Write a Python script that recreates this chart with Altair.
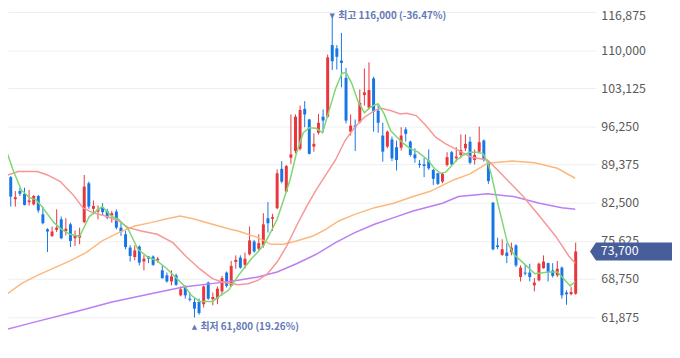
import altair as alt
import numpy as np
import pandas as pd

# ---------------- data ----------------
opens = [89600, 87100, 83100, 84600, 84100, 82600, 82200, 83700, 80400, 77700,
         76500, 77600, 79500, 77400, 78600, 76100, 76200, 79000, 86000, 81400,
         80900, 81700, 81000, 80200, 80900, 78000, 76800, 74400, 72700, 74600,
         71900, 72800, 72800, 72100, 70300, 69400, 68300, 69400, 65800, 67300,
         65200, 64600, 64600, 64200, 68100, 65100, 65200, 66500, 69900, 67500,
         71800, 72600, 71300, 73200, 75500, 74200, 74800, 79700, 79600, 81500,
         88600, 84500, 90600, 91800, 92200, 99400, 97500, 92600, 95100, 98000,
         98000, 110900, 110300, 108100, 105000, 95300, 96400, 97000, 101900, 99600,
         104900, 99100, 94600, 92600, 93900, 92500, 92400, 95700, 93500, 91200,
         89500, 89400, 90100, 88400, 87800, 86300, 89300, 91600, 90500, 91100,
         92300, 93500, 90200, 91700, 93700, 89800, 82500, 74800, 73100, 73500,
         73600, 74800, 69100, 69900, 69900, 67600, 68500, 70700, 71600, 70300,
         69400, 70800, 66300, 66000, 66100]
highs = [90000, 87300, 84600, 85200, 85200, 84800, 83900, 83900, 81800, 77900,
         78200, 81300, 80000, 79700, 78900, 77500, 78000, 87500, 86300, 82900,
         82000, 82400, 81400, 81000, 81300, 78900, 77400, 74800, 74800, 74800,
         73000, 72900, 73000, 72700, 71200, 69900, 70300, 69700, 67400, 67600,
         66400, 65500, 65200, 67600, 68300, 66300, 67400, 69300, 70100, 72000,
         73000, 73000, 73500, 78200, 75800, 76800, 80600, 82600, 80500, 88500,
         90000, 89300, 98400, 98400, 100000, 100800, 97600, 95000, 98500, 99300,
         109200, 116000, 110900, 113100, 106800, 98400, 97500, 102900, 106700, 107800,
         105200, 100100, 96900, 95500, 94400, 93700, 96100, 96100, 93700, 92300,
         90200, 90600, 92100, 88600, 87900, 87900, 91600, 91800, 92500, 94800,
         94800, 94400, 92100, 96200, 93900, 90100, 82600, 76200, 75900, 75200,
         75300, 75000, 71200, 71300, 71500, 68900, 71700, 73000, 71700, 71600,
         72000, 71000, 66700, 67300, 75300]
lows = [86600, 81800, 81800, 83700, 82000, 82000, 82000, 80700, 78600, 73600,
        76300, 77200, 75900, 76600, 74500, 74700, 75000, 78800, 81400, 80400,
        79500, 80100, 79500, 78900, 77700, 76500, 74100, 71900, 72100, 71200,
        70300, 71600, 71100, 71700, 68800, 68100, 67600, 67500, 65600, 65200,
        64700, 61800, 62300, 63600, 65000, 64000, 64200, 65800, 67200, 67300,
        70600, 70600, 70600, 73000, 73500, 73900, 74400, 77100, 77400, 81300,
        86000, 84400, 89500, 91400, 91900, 96100, 91200, 91700, 94800, 95200,
        97800, 106400, 106500, 103300, 96800, 94600, 91800, 96800, 100000, 99300,
        95300, 95100, 89900, 92300, 90000, 88300, 91900, 93500, 90800, 89700,
        88800, 87100, 88400, 85700, 85700, 86000, 89000, 89200, 89900, 90500,
        91800, 89400, 89400, 91400, 89900, 85900, 73900, 74100, 72900, 71600,
        73000, 70900, 68300, 69400, 68300, 66500, 68300, 70600, 68300, 69000,
        69100, 65200, 64100, 65800, 65900]
closes = [87000, 83600, 83500, 84100, 82100, 82900, 83700, 81100, 78800, 77300,
          77300, 78000, 76100, 77800, 75600, 76600, 76700, 85400, 81800, 81900,
          81300, 80800, 79800, 80600, 78000, 77200, 74500, 72900, 73900, 71700,
          72400, 72400, 71300, 72400, 68900, 68300, 69200, 67700, 66900, 65800,
          65000, 63400, 62600, 67400, 65200, 65500, 67000, 68900, 67500, 71100,
          72200, 70800, 72400, 75700, 73700, 75200, 78600, 78800, 79900, 87800,
          86300, 89100, 91200, 98000, 99200, 98400, 91300, 93100, 96900, 97300,
          108700, 108000, 108800, 107700, 97300, 96400, 96100, 100500, 102400, 102800,
          98900, 96900, 91700, 95300, 90500, 90200, 94600, 94900, 91100, 90500,
          89300, 89100, 88700, 86800, 85900, 87700, 90700, 89400, 90800, 92000,
          93100, 89700, 91100, 93400, 90200, 86400, 74100, 74500, 74100, 72900,
          74400, 71200, 70800, 69700, 69100, 68100, 71500, 71900, 69900, 69300,
          70600, 65800, 66000, 66400, 73700]

# moving averages (candle index, value)
ma5_x = [-0.2, 1.5, 3.3, 5.1, 6.5, 7.5, 10.4, 12.1, 13.9, 16.0, 18.1, 20.9, 23.0,
         24.5, 26.6, 28.7, 30.8, 32.9, 35.0, 37.2, 38.9, 40.3, 42.1, 44.9, 46.7,
         48.4, 50.5, 52.0, 53.4, 54.8, 56.2, 57.6, 59.0, 60.4, 61.8, 63.2, 64.7,
         66.0, 67.5, 68.9, 70.3, 71.7, 73.1, 74.0, 75.2, 76.6, 78.0, 79.1, 80.2,
         81.0, 82.3, 83.7, 85.1, 86.5, 87.9, 89.7, 91.8, 93.2, 94.6, 95.7, 96.7,
         98.1, 99.6, 101.0, 102.4, 103.8, 104.8, 105.5, 107.0, 109.1, 110.5,
         113.3, 115.1, 118.2, 120.0, 121.4, 122.8, 123.9]
ma5_v = [92500, 88400, 84800, 83400, 83000, 82100, 78900, 77700, 76800, 76400,
         80000, 81800, 80000, 79500, 77700, 74100, 72700, 72000, 70600, 68800,
         67400, 65800, 64700, 64700, 65800, 66700, 69300, 70900, 72400, 73600,
         75000, 77200, 79500, 83000, 86600, 91400, 95100, 96000, 95900, 95100,
         99100, 103000, 105800, 106000, 104100, 100800, 98700, 99600, 100100,
         100300, 98500, 95500, 94300, 93200, 92300, 91600, 90200, 88700, 87800,
         88000, 88900, 90200, 91100, 91600, 91600, 91400, 89800, 88000, 82500,
         75400, 73200, 71100, 69700, 70000, 70000, 68800, 67500, 68300]
ma20_x = [-0.2, 2.6, 6.8, 9.0, 11.8, 14.6, 16.7, 18.8, 21.6, 24.5, 26.6, 29.4,
          32.9, 36.3, 39.3, 42.1, 44.9, 47.0, 50.5, 52.7, 54.8, 56.9, 59.0, 61.1,
          63.2, 65.4, 67.5, 69.6, 71.7, 73.8, 75.9, 78.0, 80.2, 81.6, 83.7, 85.8,
          87.2, 89.3, 91.4, 93.5, 95.7, 99.2, 101.3, 104.8, 107.0, 109.8, 112.6,
          116.1, 119.6, 122.5, 123.9]
ma20_v = [87300, 88100, 88100, 87500, 86300, 83900, 81600, 80700, 80100, 79200,
          78000, 77400, 76800, 75300, 72700, 70600, 68800, 68200, 67700, 67900,
          68500, 69700, 71800, 74700, 78300, 81800, 84800, 87500, 90200, 93700,
          96100, 97900, 99100, 99500, 99100, 98500, 98600, 98200, 96400, 94300,
          93100, 91600, 90700, 90200, 88400, 86000, 83600, 80100, 76500, 72900,
          71600]
ma60_x = [-0.2, 3.3, 6.8, 13.9, 17.4, 20.9, 24.5, 28.0, 31.5, 35.0, 37.9, 40.7,
          44.9, 48.4, 50.5, 54.8, 57.6, 60.4, 63.2, 66.8, 69.6, 72.4, 75.9, 80.2,
          84.4, 88.6, 92.2, 97.4, 101.0, 104.8, 110.1, 115.1, 120.0, 123.9]
ma60_v = [65800, 67900, 69400, 72000, 73500, 75600, 77100, 78300, 78900, 79600,
          80100, 79600, 78600, 77800, 77400, 76200, 75000, 75000, 75600, 76500,
          77700, 79200, 80400, 81600, 82400, 83600, 84500, 86600, 87700, 89600,
          90000, 89700, 88700, 86900]
ma120_x = [-0.2, 6.8, 15.3, 23.05, 31.5, 38.6, 45.6, 50.5, 54.8, 59.0, 63.2, 67.5,
           71.7, 75.9, 80.2, 84.4, 88.6, 95.0, 98.5, 104.8, 110.5, 116.1, 121.0,
           123.9]
ma120_v = [59600, 61100, 62900, 64600, 66100, 67300, 68000, 68500, 69100, 70000,
           71500, 73200, 75300, 77100, 78600, 79800, 81000, 82400, 83600, 84100,
           83600, 82400, 81600, 81300]

y_ticks = [61875, 68750, 75625, 82500, 89375, 96250, 103125, 110000, 116875]

# ---------------- styling ----------------
RED = "#e8363c"
BLUE = "#1676e6"
C_MA5 = "#7fd672"
C_MA20 = "#f79797"
C_MA60 = "#fbb97c"
C_MA120 = "#b97ff3"
C_NOTE = "#6479b5"
C_TAG = "#475e9b"
FONT = "Noto Sans CJK KR"

n = len(closes)
candles = pd.DataFrame({"i": list(range(n)), "open": opens, "high": highs,
                        "low": lows, "close": closes})
candles["dir"] = np.where(candles["close"] >= candles["open"], "up", "down")

x_scale = alt.Scale(domain=[1.48, 127.33], nice=False, zero=False)
y_scale = alt.Scale(domain=[57386, 117231], nice=False, zero=False)
y_axis = alt.Axis(orient="right", values=y_ticks, format=",.0f", grid=True,
                  gridColor="#efefef", gridWidth=1, domain=False, ticks=False,
                  labelPadding=5, labelFont=FONT, labelFontSize=12.5,
                  labelColor="#5a5a5a", title=None,
                  labelOffset={"condition": {"test": "datum.value > 116000", "value": 4},
                               "value": 0})
col = alt.Color("dir:N", scale=alt.Scale(domain=["up", "down"], range=[RED, BLUE]),
                legend=None)
X = alt.X("i:Q", scale=x_scale, axis=None)


def Y(field):
    return alt.Y(field, scale=y_scale, axis=y_axis, title=None)


base = alt.Chart(candles)
wicks = base.mark_rule(strokeWidth=1, clip=True).encode(x=X, y=Y("low:Q"), y2="high:Q", color=col)
bodies = base.mark_bar(size=3, clip=True).encode(x=X, y=Y("open:Q"), y2="close:Q", color=col)


def ma_line(xs, vs, color):
    df = pd.DataFrame({"i": xs, "v": vs})
    return alt.Chart(df).mark_line(color=color, strokeWidth=1.5, clip=True).encode(
        x=X, y=Y("v:Q"))


l5 = ma_line(ma5_x, ma5_v, C_MA5)
l20 = ma_line(ma20_x, ma20_v, C_MA20)
l60 = ma_line(ma60_x, ma60_v, C_MA60)
l120 = ma_line(ma120_x, ma120_v, C_MA120)

# high / low annotations
hi_i = int(np.argmax(highs))
lo_i = int(np.argmin(lows))
hi_v = highs[hi_i]
lo_v = lows[lo_i]
last = closes[-1]
hi_df = pd.DataFrame({"i": [hi_i], "p": [hi_v],
                      "t": [f"최고 {hi_v:,} ({(last / hi_v - 1) * 100:.2f}%)"]})
lo_df = pd.DataFrame({"i": [lo_i], "p": [lo_v],
                      "t": [f"최저 {lo_v:,} ({(last / lo_v - 1) * 100:.2f}%)"]})

hi_tri = alt.Chart(hi_df).mark_text(text="▼", font="DejaVu Sans", fontSize=7,
                                    color=C_NOTE, baseline="middle", dy=-1).encode(
    x=X, y=Y("p:Q"))
hi_txt = alt.Chart(hi_df).mark_text(font=FONT, fontSize=10, fontWeight="bold",
                                    color=C_NOTE, align="left", baseline="middle",
                                    dx=6, dy=-1).encode(x=X, y=Y("p:Q"), text="t:N")
lo_tri = alt.Chart(lo_df).mark_text(text="▲", font="DejaVu Sans", fontSize=7,
                                    color=C_NOTE, baseline="middle", dy=10).encode(
    x=X, y=Y("p:Q"))
lo_txt = alt.Chart(lo_df).mark_text(font=FONT, fontSize=10, fontWeight="bold",
                                    color=C_NOTE, align="left", baseline="middle",
                                    dx=6, dy=10).encode(x=X, y=Y("p:Q"), text="t:N")

# current price tag
last_df = pd.DataFrame({"p": [last], "t": [f"{last:,}"]})
tag = alt.Chart(last_df).mark_point(
    shape="M 0 0 L 0.67 -1 L 9.4 -1 L 9.4 1 L 0.67 1 Z", size=324, filled=True,
    fill=C_TAG, strokeWidth=0, opacity=1).encode(x=alt.value(589), y=Y("p:Q"))
tag_txt = alt.Chart(last_df).mark_text(font=FONT, fontSize=12.5, color="white",
                                       align="left", baseline="middle").encode(
    x=alt.value(600), y=Y("p:Q"), text="t:N")

chart = alt.layer(wicks, bodies, l60, l120, l20, l5, hi_tri, hi_txt, lo_tri, lo_txt,
                  tag, tag_txt).properties(
    width=595, height=336,
    padding={"left": 0, "top": 0, "right": 77, "bottom": 0},
    autosize=alt.AutoSizeParams(type="none"),
    background="white",
).configure_view(stroke=None)

chart.save("out.html", embed_options={"renderer": "svg", "actions": False})
